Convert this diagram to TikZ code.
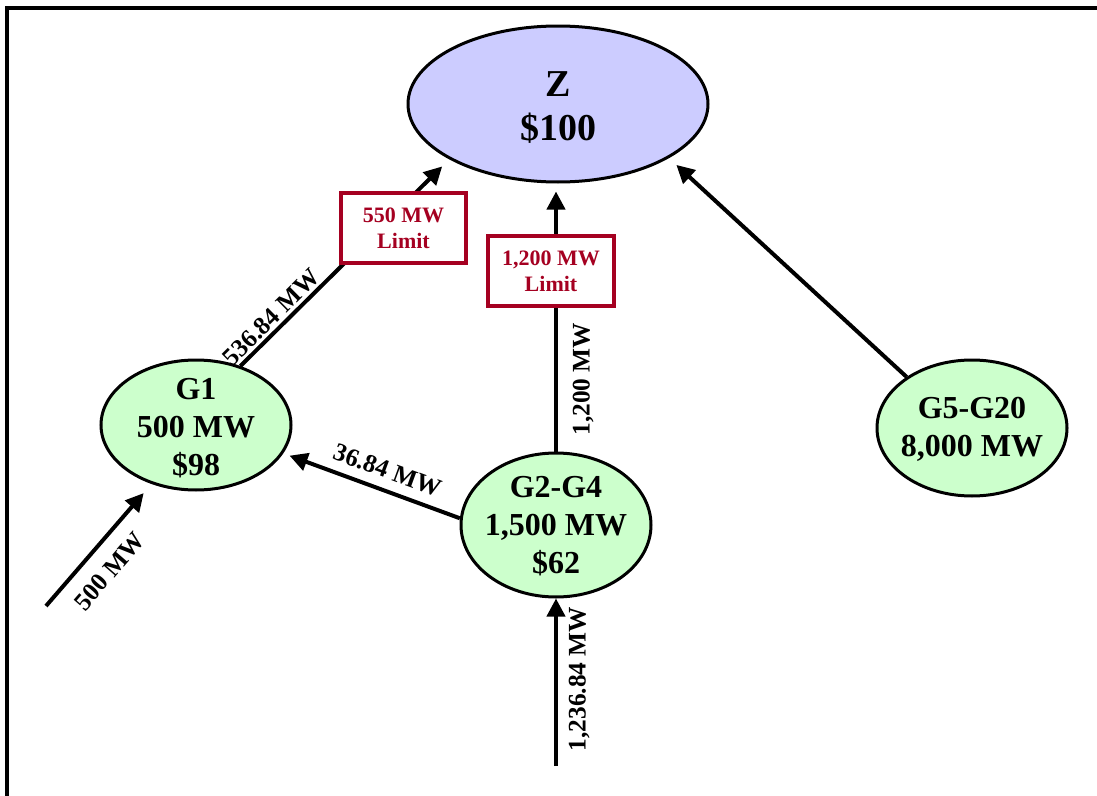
\documentclass[tikz,border=0pt]{standalone}
\usepackage{fontspec}
\setmainfont{Liberation Serif}
\usetikzlibrary{arrows.meta,shapes.geometric}
\definecolor{zfill}{HTML}{CCCCFF}
\definecolor{gfill}{HTML}{CCFFCC}
\definecolor{limitred}{HTML}{A50021}
\begin{document}
\begin{tikzpicture}[x=0.75pt,y=-0.75pt,
  bus/.style={ellipse, draw=black, line width=2.25pt, inner sep=0pt},
  zone/.style={bus, fill=zfill, minimum width=225pt, minimum height=117pt},
  gen/.style={bus, fill=gfill, minimum width=142.5pt},
  bustext/.style={align=center, inner sep=0pt, font=\bfseries\fontsize{24}{28.5}\selectfont},
  zonetext/.style={align=center, inner sep=0pt, font=\bfseries\fontsize{28.5}{33}\selectfont},
  flow/.style={line width=3pt, -{Triangle[length=13.5pt,width=13.5pt]}},
  flowlabel/.style={sloped, inner sep=0pt, font=\bfseries\fontsize{19}{22}\selectfont},
  limitbox/.style={draw=limitred, fill=white, line width=3pt, text=limitred, align=center,
    font=\bfseries\fontsize{16.5}{19.5}\selectfont, minimum width=94pt, minimum height=52pt, inner sep=0pt}]

% page and frame
\useasboundingbox (0,0) rectangle (1097,796);
\draw[line width=3pt] (7,8) rectangle (1130,830);

% buses
\node[zone, label={[zonetext, yshift=-3pt]center:{Z\\\$100}}] (z) at (558,104) {};
\node[gen, minimum height=97.5pt, label={[bustext, yshift=-2pt]center:{G1\\500 MW\\\$98}}] (g1) at (196,425) {};
\node[gen, minimum height=108pt, label={[bustext, yshift=-1pt]center:{G2-G4\\1,500 MW\\\$62}}] (g2) at (556,525) {};
\node[gen, minimum height=102pt, label={[bustext, yshift=-1pt]center:{G5-G20\\8,000 MW}}] (g5) at (972,428) {};

% external injections
\coordinate (in1) at (46,606);
\coordinate (in2) at (556,766);

% flows
\draw[flow, shorten >=7.5pt] (g1.53) -- node[flowlabel, above, inner sep=2pt, pos=0.19] (f1) {536.84 MW} (z.207.5);
\draw[flow, shorten >=6pt] (g2.north) -- node[flowlabel, below, inner sep=11pt, pos=0.27] (f2) {1,200 MW} (g2.north |- z.south);
\draw[flow, shorten >=7.5pt] (g5.142) -- (z.-26.4);
\draw[flow, shorten >=5pt] (g2.176) -- node[flowlabel, above, inner sep=7pt, pos=0.45] (f3) {36.84 MW} (g1.-18);
\draw[flow, shorten >=9pt] (in1) -- node[flowlabel, below, inner sep=11pt, pos=0.42] (f4) {500 MW} (g1.233);
\draw[flow] (in2) -- node[flowlabel, below, inner sep=8pt, pos=0.52] (f5) {1,236.84 MW} (g2.south);

% line limits
\node[limitbox] (lim1) at (403.5,228) {550 MW\\Limit};
\node[limitbox, minimum height=53pt] (lim2) at (551,271) {1,200 MW\\Limit};
\end{tikzpicture}
\end{document}
